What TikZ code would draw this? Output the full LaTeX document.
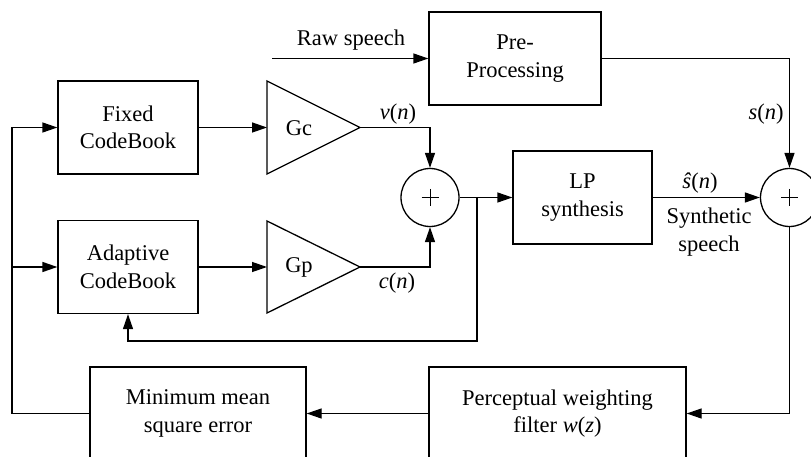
\documentclass[tikz,border=0pt]{standalone}
\usepackage{fontspec}
\setmainfont{Liberation Serif}
\usetikzlibrary{arrows.meta,calc}
\begin{document}
\begin{tikzpicture}[x=1pt,y=-1pt,
  line width=1.3pt,
  every node/.style={font=\fontsize{22.5}{27.5}\selectfont},
  blockbox/.style={draw,rectangle,align=center,inner sep=0pt},
  sumnode/.style={draw,circle,minimum size=58pt,inner sep=0pt},
  arr/.style={-{Triangle[length=15pt,width=10pt]}},
  lbl/.style={inner sep=0pt}]
\useasboundingbox (0,0) rectangle (811,457);
\fill[white] (0,0) rectangle (811,457);
\clip (0,0) rectangle (811,457);
% blocks
\node[blockbox,minimum width=140pt,minimum height=93pt] (fixed) at (128,127.5) {Fixed\\CodeBook};
\node[blockbox,minimum width=140pt,minimum height=93pt] (adapt) at (128,267) {Adaptive\\CodeBook};
\node[blockbox,minimum width=172pt,minimum height=93pt] (pre) at (515,58.5) {Pre-\\Processing};
\node[blockbox,minimum width=139pt,minimum height=93pt] (lp) at (582.5,197.5) {LP\\synthesis};
\node[blockbox,minimum width=216pt,minimum height=93pt] (mmse) at (198,413.5) {Minimum mean\\square error};
\node[blockbox,minimum width=257pt,minimum height=93pt] (pw) at (557.5,413.5) {Perceptual weighting\\filter \textit{w}(\textit{z})};
% gains
\draw (267,81) -- (360,127.5) -- (267,174) -- cycle;
\draw (267,221) -- (360,267) -- (267,313) -- cycle;
\coordinate (gcin) at (267,127.5);
\coordinate (gcout) at (360,127.5);
\coordinate (gpin) at (267,267);
\coordinate (gpout) at (360,267);
\node[lbl] (gc) at (299,128) {Gc};
\node[lbl] (gp) at (299,267) {Gp};
% summers
\node[sumnode] (s1) at (430,197.5) {};
\node[sumnode] (s2) at (789.5,197.5) {};
\foreach \s in {s1,s2}{
  \draw[line width=1pt] ($(\s.center)+(-8.5,0)$) -- ($(\s.center)+(8.5,0)$);
  \draw[line width=1pt] ($(\s.center)+(0,-8.5)$) -- ($(\s.center)+(0,8.5)$);
}
% coordinates
\coordinate (rs) at (272,58.5);
\coordinate (j) at (477,197.5);
\coordinate (fb) at (477,341);
\coordinate (lt) at (12,413.5);
\coordinate (lm) at (12,267);
\coordinate (lb) at (12,127.5);
% connectors
\draw[arr] (rs) -- (pre.west);
\draw[arr] (pre.east) -| (s2.north);
\draw[arr] (fixed.east) -- (gcin);
\draw[arr] (adapt.east) -- (gpin);
\draw[arr] (gcout) -| (s1.north);
\draw[arr] (gpout) -| (s1.south);
\draw[arr] (s1.east) -- (lp.west);
\draw[arr] (j) -- (fb) -| (adapt.south);
\draw[arr] (lp.east) -- (s2.west);
\draw[arr] (s2.south) |- (pw.east);
\draw[arr] (pw.west) -- (mmse.east);
\draw[arr] (mmse.west) -- (lt) -- (lb) -- (fixed.west);
\draw[arr] (lm) -- (adapt.west);
% labels
\node[lbl] (rawlbl) at (351,40) {Raw speech};
\node[lbl] (vlbl) at (398,114) {\textit{v}(\textit{n})};
\node[lbl] (clbl) at (397,283) {\textit{c}(\textit{n})};
\node[lbl] (slbl) at (766,114) {\textit{s}(\textit{n})};
\node[lbl] (shlbl) at (700,183) {\textit{ŝ}(\textit{n})};
\node[lbl,align=center] (synlbl) at (709,232) {Synthetic\\speech};
\end{tikzpicture}
\end{document}
